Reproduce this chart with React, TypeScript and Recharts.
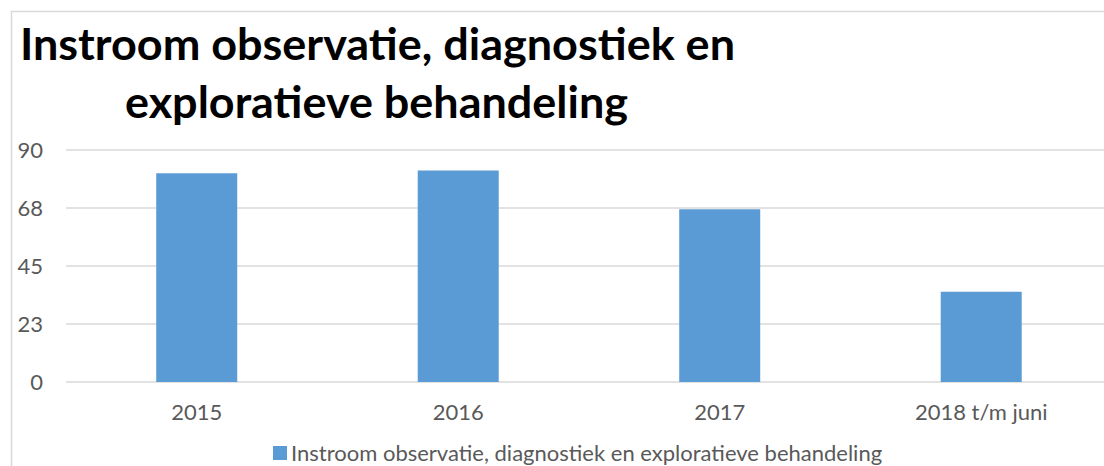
import React from "react";
import { BarChart, Bar, XAxis, YAxis, CartesianGrid, Legend } from "recharts";

const categories = ["2015", "2016", "2017", "2018 t/m juni"];
const seriesName = "Instroom observatie, diagnostiek en exploratieve behandeling";
const values = [81, 82, 67, 35];
const yTicks = [0, 22.5, 45, 67.5, 90];
const titleLines = ["Instroom observatie, diagnostiek en", "exploratieve behandeling"];

const data = categories.map((c, i) => ({ name: c, value: values[i] }));

const FONT = "Lato, 'Open Sans', sans-serif";
const BAR_COLOR = "#5b9bd5";

const LegendContent = (props: any) => {
  const items = props.payload || [];
  return (
    <div style={{ display: "flex", alignItems: "center", fontFamily: FONT, height: 25 }}>
      {items.map((it: any, i: number) => (
        <div key={i} style={{ display: "flex", alignItems: "center" }}>
          <span style={{ display: "inline-block", width: 14, height: 14, background: it.color, marginRight: 4 }} />
          <span style={{ fontSize: 22, color: "#595959", lineHeight: "25px" }}>{it.value}</span>
        </div>
      ))}
    </div>
  );
};

export default function App() {
  return (
    <div style={{ position: "fixed", left: 8, top: 8, width: 1096, height: 458, overflow: "hidden", background: "#fff" }}>
      <BarChart
        width={1140}
        height={470}
        data={data}
        margin={{ top: 142, right: 36, bottom: 41, left: 0 }}
        barCategoryGap="34.5%"
      >
        <CartesianGrid horizontal vertical={false} stroke="#d9d9d9" strokeWidth={1.5} />
        <XAxis
          dataKey="name"
          height={30}
          axisLine={false}
          tickLine={false}
          tickSize={0}
          tickMargin={22}
          tick={{ fill: "#595959", fontSize: 22, fontFamily: FONT }}
          interval={0}
        />
        <YAxis
          width={58}
          domain={[0, 90]}
          ticks={yTicks}
          tickFormatter={(v: number) => String(Math.round(v))}
          axisLine={false}
          tickLine={false}
          tickSize={0}
          tickMargin={23}
          tick={{ fill: "#595959", fontSize: 22, fontFamily: FONT }}
        />
        <Bar dataKey="value" name={seriesName} fill={BAR_COLOR} isAnimationActive={false} />
        <Legend
          content={<LegendContent />}
          wrapperStyle={{ position: "absolute", left: 265, top: 432, width: "auto", bottom: "auto" }}
        />
      </BarChart>
      <svg
        width={1096}
        height={458}
        style={{ position: "absolute", left: 0, top: 0, pointerEvents: "none" }}
      >
        <rect x={3.5} y={3.5} width={2000} height={2000} fill="none" stroke="#d9d9d9" strokeWidth={1.5} />
        <text x={12} y={52} fontFamily={FONT} fontWeight="bold" fontSize={43} fill="#000" textLength={715} lengthAdjust="spacingAndGlyphs">
          {titleLines[0]}
        </text>
        <text x={117} y={110} fontFamily={FONT} fontWeight="bold" fontSize={43} fill="#000" textLength={503} lengthAdjust="spacingAndGlyphs">
          {titleLines[1]}
        </text>
      </svg>
    </div>
  );
}
